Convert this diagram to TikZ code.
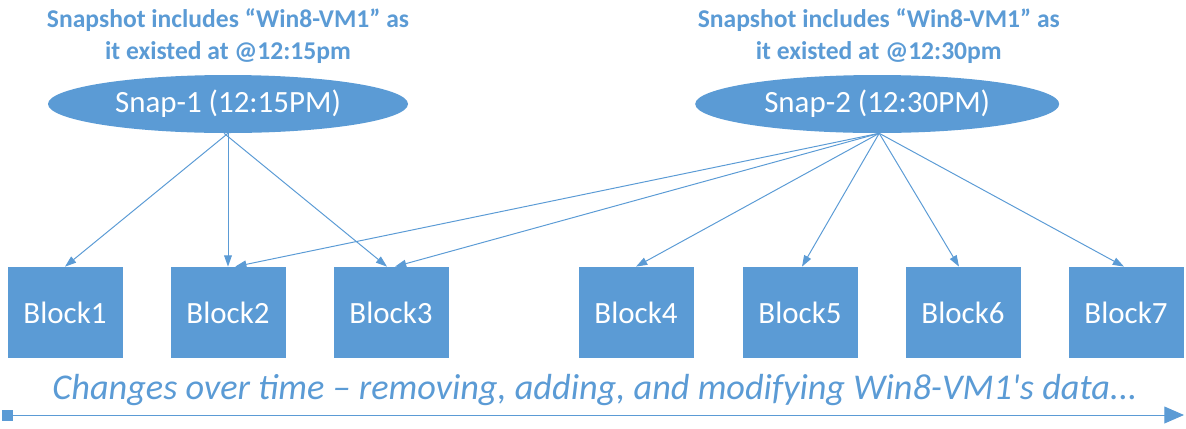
\documentclass[tikz,border=0pt]{standalone}
\usepackage{fontspec}
\setmainfont{Carlito}
\usetikzlibrary{arrows.meta,shapes.geometric}

\definecolor{officeblue}{HTML}{5B9BD5}

\tikzset{
    snap/.style={ellipse, fill=officeblue, text=white, minimum width=9cm,
        minimum height=1.45cm, inner sep=0pt, font=\fontsize{22}{26}\selectfont},
    block/.style={rectangle, fill=officeblue, text=white, minimum width=2.875cm,
        minimum height=2.275cm, inner sep=0pt, font=\fontsize{22}{26}\selectfont},
    caption/.style={text=officeblue, align=center,
        font=\bfseries\fontsize{18.2}{22.8}\selectfont},
    link/.style={draw=officeblue, line width=0.7pt,
        -{Triangle[length=8pt, width=5.5pt]}},
}

\begin{document}
\begin{tikzpicture}
    \useasboundingbox (0,0) rectangle (29.65,-10.7);

    % snapshots and what they hold
    \node[caption] (cap1) at (5.7,-0.9)
        {Snapshot includes “Win8-VM1” as\\it existed at @12:15pm};
    \node[caption] (cap2) at (21.97,-0.9)
        {Snapshot includes “Win8-VM1” as\\it existed at @12:30pm};
    \node[snap] (snap1) at (5.7,-2.6) {Snap-1 (12:15PM)};
    \node[snap, minimum width=9.1cm] (snap2) at (21.93,-2.6) {Snap-2 (12:30PM)};

    % the data blocks
    \node[block] (b1) at (1.625,-7.81) {Block1};
    \node[block] (b2) at (5.7,-7.81) {Block2};
    \node[block] (b3) at (9.775,-7.81) {Block3};
    \node[block] (b4) at (15.9,-7.81) {Block4};
    \node[block] (b5) at (20.0,-7.81) {Block5};
    \node[block] (b6) at (24.075,-7.81) {Block6};
    \node[block] (b7) at (28.15,-7.81) {Block7};

    % Snap-1 points at the first three blocks
    \draw[link] (snap1.south) -- (b1.north);
    \draw[link] (snap1.south) -- (b2.north);
    \draw[link] ([xshift=-0.1cm]snap1.south) -- ([xshift=-0.1cm]b3.north);

    % Snap-2 shares Block2 and Block3
    \foreach \b/\dx in {b2/0.18, b3/0.1, b4/0, b5/0.05, b6/-0.1, b7/-0.05}
        \draw[link] ([xshift=0.05cm]snap2.south) -- ([xshift=\dx cm]\b.north);

    % time line
    \node[text=officeblue, anchor=base, font=\itshape\fontsize{25.8}{30}\selectfont]
        (changes) at (14.875,-9.975)
        {Changes over time – removing, adding, and modifying Win8-VM1\textquotesingle s data...};
    \coordinate (tstart) at (0.2,-10.375);
    \coordinate (tend) at (29.6,-10.375);
    \fill[officeblue] (0.05,-10.25) rectangle (0.33,-10.53);
    \draw[officeblue, line width=0.7pt, -{Triangle[length=14pt, width=12pt]}]
        (tstart) -- (tend);
\end{tikzpicture}
\end{document}
